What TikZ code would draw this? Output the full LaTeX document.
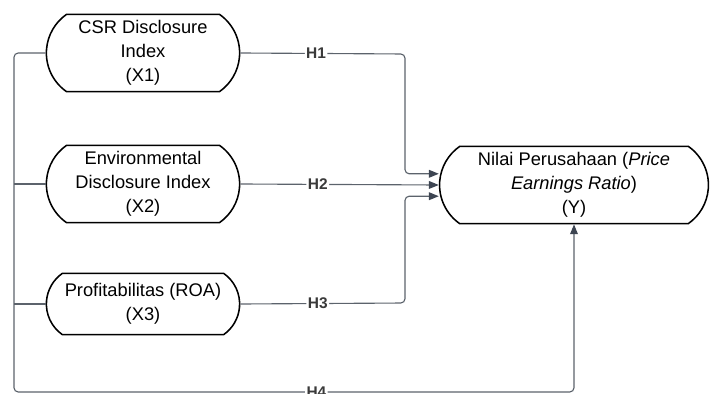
\documentclass[tikz,border=0pt]{standalone}
\usepackage{fontspec}
\setmainfont{Liberation Sans}
\usetikzlibrary{arrows.meta,shapes.misc}

\definecolor{linkgray}{HTML}{5C636C}
\definecolor{tipgray}{HTML}{3D4552}
\definecolor{labgray}{HTML}{3A3A3A}

\begin{document}
\begin{tikzpicture}[x=0.025cm, y=-0.025cm, font=\fontsize{13}{17}\selectfont,
    >={Triangle[length=7pt,width=5.5pt]}]
  \tikzset{
    var/.style={draw, line width=1.1pt, rounded rectangle,
      rounded rectangle arc length=110, align=center, inner sep=0pt,
      minimum width=4.83cm, minimum height=1.93cm},
    link/.style={draw=linkgray, line width=0.8pt, rounded corners=3pt},
    tip/.style={-{Triangle[length=7pt,width=5.5pt,fill=tipgray,color=tipgray]}},
    hlab/.style={fill=white, inner sep=1pt, text=labgray,
      font=\fontsize{11}{13}\selectfont\bfseries}
  }
  \useasboundingbox (0,0) rectangle (710,394);

  \node[var] (x1) at (143,53) {CSR Disclosure\\Index\\(X1)};
  \node[var] (x2) at (143,184) {Environmental\\Disclosure Index\\(X2)};
  \node[var, minimum height=1.53cm] (x3) at (143,304)
    {Profitabilitas (ROA)\\(X3)};
  \node[var, minimum width=6.72cm] (y) at (574,185)
    {Nilai Perusahaan (\textit{Price}\\\textit{Earnings Ratio})\\(Y)};

  \coordinate (railtop) at (14,53);
  \coordinate (railbot) at (14,392);
  \coordinate (bend1) at (405,54);
  \coordinate (bend3) at (405,303);

  % left rail and H4
  \draw[link] (x2.west) -- (14,184);
  \draw[link] (x3.west) -- (14,304);
  \draw[link, tip] (x1.west) -- (railtop) -- (railbot)
    -| node[hlab, pos=0.27] {H4} (y.south);

  \draw[link, tip] (x1.east) -- node[hlab, pos=0.46] {H1} (bend1)
    |- ([yshift=0.28cm]y.west);
  \draw[link, tip] (x2.east) -- node[hlab, pos=0.39] {H2} (y.west);
  \draw[link, tip] (x3.east) -- node[hlab, pos=0.47] {H3} (bend3)
    |- ([yshift=-0.28cm]y.west);
\end{tikzpicture}
\end{document}
